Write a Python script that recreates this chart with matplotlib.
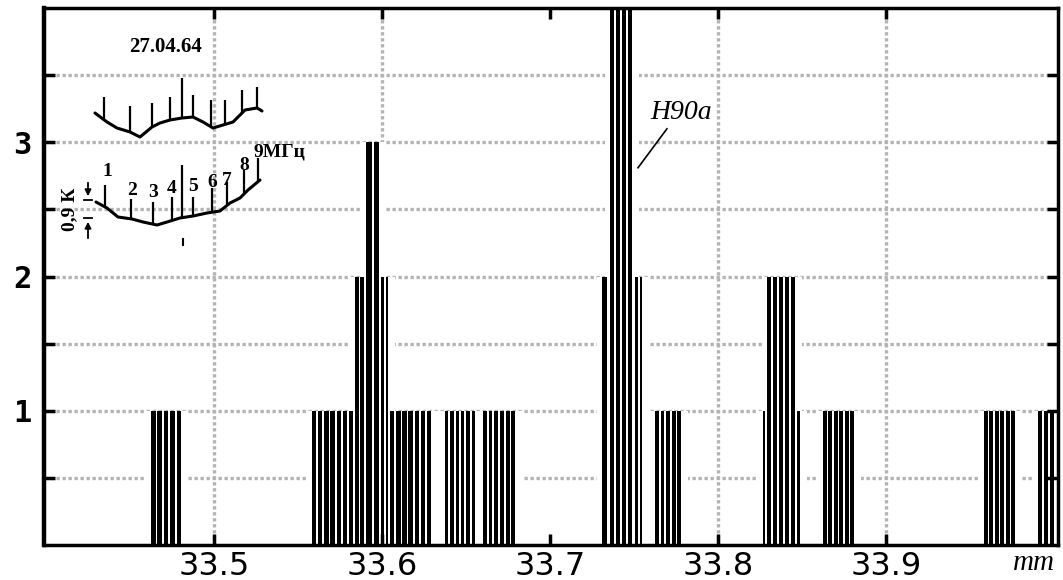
import numpy as np
import matplotlib.pyplot as plt

# histogram segments (mm), count and number of drawn lines
seg_left = [33.4625, 33.5583, 33.5839, 33.5905, 33.5994, 33.6048, 33.6375, 33.6601,
            33.7310, 33.7357, 33.7506, 33.7625, 33.8268, 33.8292, 33.8470, 33.8625,
            33.9583, 33.9905]
seg_right = [33.4816, 33.5839, 33.5905, 33.5994, 33.6048, 33.6304, 33.6565, 33.6804,
             33.7351, 33.7500, 33.7560, 33.7792, 33.8292, 33.8470, 33.8500, 33.8821,
             33.9780, 34.0012]
seg_count = [1, 1, 2, 3, 2, 1, 1, 1, 2, 4, 2, 1, 1, 2, 1, 1, 1, 1]
seg_lines = [5, 7, 2, 2, 2, 7, 6, 6, 1, 4, 2, 5, 1, 5, 1, 6, 6, 3]

x_ticks = [33.5, 33.6, 33.7, 33.8, 33.9]
x_grid = [33.5, 33.6, 33.8, 33.9]
y_ticks = [1, 2, 3]
y_grid = [0.5, 1, 1.5, 2, 2.5, 3, 3.5]

# inset sketch (scanned drawing, pixel coords of the figure)
upper_x = [95, 107, 117, 130, 140, 152, 160, 170, 182, 193, 203, 213, 223, 233, 245, 257, 262]
upper_y = [113, 122, 128, 132, 137, 127, 123, 120, 118, 117, 122, 128, 125, 122, 110, 108, 111]
upper_stick_x = [104, 130, 152, 170, 182, 193, 211, 225, 242, 257]
upper_stick_top = [97, 106, 103, 97, 78, 95, 100, 100, 90, 87]
lower_x = [96, 107, 118, 132, 143, 157, 167, 180, 193, 207, 220, 230, 240, 248, 260]
lower_y = [202, 208, 217, 219, 222, 225, 222, 218, 216, 213, 211, 203, 198, 190, 180]
lower_stick_x = [105, 131, 153, 172, 182, 193, 212, 227, 244, 258]
lower_stick_top = [185, 199, 202, 197, 165, 197, 188, 182, 170, 158]
chan_labels = ['1', '2', '3', '4', '5', '6', '7', '8']
chan_x = [107, 132, 153, 172, 193, 212, 227, 244]
chan_y = [180, 199, 201, 197, 195, 191, 189, 174]

fig = plt.figure(figsize=(10.63, 5.80), dpi=100)
ax = fig.add_axes([44 / 1063, 35 / 580, 1014 / 1063, 537 / 580])

gap = 0.0011
pad = 0.0030
for l, r, c, n in zip(seg_left, seg_right, seg_count, seg_lines):
    # white margin that interrupts the dotted grid next to the bars
    ax.bar(l - pad, c, width=(r - l) + 2 * pad, align='edge', color='white', zorder=1)
    edges = np.linspace(l, r, n + 1)
    ax.bar(edges[:-1], c, width=np.diff(edges) - gap, align='edge', color='black',
           linewidth=0, zorder=2)

for g in y_grid:
    ax.axhline(g, color='#b4b4b4', lw=2.4, linestyle=(0, (1, 0.8)), zorder=0.5)
for g in x_grid:
    ax.axvline(g, color='#b4b4b4', lw=2.4, linestyle=(0, (1, 0.8)), zorder=0.5)

ax.set_xlim(33.3988, 34.0024)
ax.set_ylim(0, 4)
ax.set_xticks(x_ticks)
ax.set_xticklabels([f'{v:.1f}' for v in x_ticks], fontsize=23, family='DejaVu Sans')
ax.set_yticks(y_ticks)
ax.set_yticks(y_grid, minor=True)
ax.set_yticklabels([str(v) for v in y_ticks], fontsize=22, family='DejaVu Sans Mono',
                   fontweight='bold')
ax.tick_params(axis='both', which='both', direction='in', length=8, width=2.5,
               top=True, right=True)
ax.tick_params(axis='x', pad=4)
ax.tick_params(axis='y', pad=9)
for s in ax.spines.values():
    s.set_linewidth(2.5)
ax.spines['left'].set_linewidth(3.2)

ax.text(33.7595, 3.17, 'H90a', fontsize=20, style='italic', family='Liberation Serif',
        va='baseline', ha='left', zorder=5)
ax.plot([33.7696, 33.7524], [3.10, 2.81], color='black', lw=1.2, zorder=5)

# overlay for the scanned inset and the axis unit
ov = fig.add_axes([0, 0, 1, 1])
ov.set_xlim(0, 1063)
ov.set_ylim(580, 0)
ov.axis('off')
ov.patch.set_alpha(0)

ov.text(1034, 563, 'mm', fontsize=21, style='italic', family='Liberation Serif',
        ha='center', va='center')

ov.text(166, 47, '27.04.64', fontsize=15, fontweight='bold', family='Liberation Serif',
        ha='center', va='center')
ov.plot(upper_x, upper_y, color='black', lw=2.2, solid_capstyle='round')
ov.vlines(upper_stick_x, upper_stick_top, np.interp(upper_stick_x, upper_x, upper_y),
          color='black', lw=1.6)
ov.plot(lower_x, lower_y, color='black', lw=2.2, solid_capstyle='round')
ov.vlines(lower_stick_x, lower_stick_top, np.interp(lower_stick_x, lower_x, lower_y),
          color='black', lw=1.6)
for t, x, y in zip(chan_labels, chan_x, chan_y):
    ov.text(x, y, t, fontsize=14, family='Liberation Serif', fontweight='bold',
            ha='center', va='bottom')
ov.text(253, 160, '9МГц', fontsize=14, family='Liberation Serif', fontweight='bold',
        ha='left', va='bottom')

ov.text(70, 209, '0,9 К', fontsize=14, family='Liberation Serif', fontweight='bold',
        rotation=90, ha='center', va='center')
ov.annotate('', xy=(88, 199), xytext=(88, 180),
            arrowprops=dict(arrowstyle='-|>', color='black', lw=1.3, mutation_scale=9))
ov.annotate('', xy=(88, 219), xytext=(88, 241),
            arrowprops=dict(arrowstyle='-|>', color='black', lw=1.3, mutation_scale=9))
ov.plot([84, 92], [200, 200], color='black', lw=1.3)
ov.plot([84, 92], [218, 218], color='black', lw=1.3)
ov.plot([183, 183], [239, 245], color='black', lw=1.5)

fig.savefig('out.png', dpi=100)
